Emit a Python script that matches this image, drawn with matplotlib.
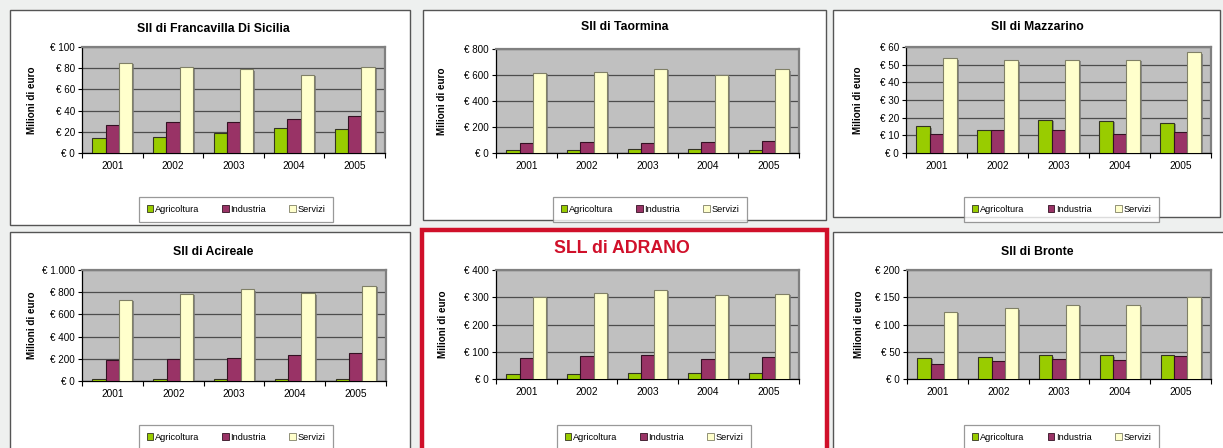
import numpy as np
import matplotlib
matplotlib.use("Agg")
import matplotlib.pyplot as plt
from matplotlib.patches import Rectangle
from matplotlib.ticker import FuncFormatter, MultipleLocator, FixedLocator
import matplotlib.patheffects as pe

plt.rcParams['font.family'] = ['Liberation Sans', 'DejaVu Sans']

# ---------------- data ----------------
years = ["2001", "2002", "2003", "2004", "2005"]
series_names = ["Agricoltura", "Industria", "Servizi"]

titles = ["Sll di Francavilla Di Sicilia", "Sll di Taormina", "Sll di Mazzarino",
          "Sll di Acireale", "SLL di ADRANO", "Sll di Bronte"]

francavilla_agr = [14, 15, 18.5, 23.5, 22.5]
francavilla_ind = [26, 29, 29, 32, 35]
francavilla_ser = [85, 81, 79, 74, 81]

taormina_agr = [21, 23, 27, 27, 22]
taormina_ind = [75, 83, 80, 85, 95]
taormina_ser = [617, 622, 648, 599, 643]

mazzarino_agr = [15.2, 12.9, 18.7, 18.3, 17.0]
mazzarino_ind = [10.6, 12.9, 12.9, 10.6, 11.8]
mazzarino_ser = [53.6, 52.5, 52.7, 52.7, 57.1]

acireale_agr = [15, 16, 21, 21, 22]
acireale_ind = [190, 198, 208, 235, 253]
acireale_ser = [730, 788, 827, 791, 858]

adrano_agr = [17, 18, 23, 23, 23]
adrano_ind = [78, 86, 87, 75, 82]
adrano_ser = [301, 316, 327, 308, 312]

bronte_agr = [38.7, 39.9, 43.6, 43.6, 44.2]
bronte_ind = [27, 33, 36, 35, 43]
bronte_ser = [123, 130, 136, 135, 150]

y_max = [100, 800, 60, 1000, 400, 200]
y_step = [20, 200, 10, 200, 100, 50]

panel_values = [
    (francavilla_agr, francavilla_ind, francavilla_ser),
    (taormina_agr, taormina_ind, taormina_ser),
    (mazzarino_agr, mazzarino_ind, mazzarino_ser),
    (acireale_agr, acireale_ind, acireale_ser),
    (adrano_agr, adrano_ind, adrano_ser),
    (bronte_agr, bronte_ind, bronte_ser),
]

# ---------------- layout (pixels) ----------------
W, H = 1223, 448
fig = plt.figure(figsize=(W / 100, H / 100), dpi=100)
fig.patch.set_facecolor('#eef0ef')

def fr(x0, y0, x1, y1):
    return [x0 / W, 1 - y1 / H, (x1 - x0) / W, (y1 - y0) / H]

boxes = [(10, 10, 410, 225), (423, 10, 826, 220), (833, 10, 1220, 217),
         (10, 232, 410, 470), (422, 230, 827, 470), (833, 232, 1240, 470)]
plots = [(82, 47, 385, 153), (496, 49, 799, 153), (906, 47, 1211, 153),
         (82, 270, 386, 381), (496, 270, 799, 379), (907, 270, 1211, 379)]
title_pos = [(213, 29), (625, 27), (1037, 27), (213, 252), (622, 248), (1037, 252)]
ylabel_x = [32, 442, 858, 32, 443, 859]
legend_box = [(139, 197, 333, 220), (553, 197, 747, 220), (964, 197, 1159, 218),
              (139, 425, 333, 448), (557, 425, 751, 448), (964, 425, 1159, 448)]

colors = ['#99cc00', '#993366', '#ffffcc']
edges = ['#333322', '#331122', '#808066']

for i in range(6):
    bx0, by0, bx1, by1 = boxes[i]
    red = (i == 4)
    fig.patches.append(Rectangle((bx0 / W, 1 - by1 / H), (bx1 - bx0) / W, (by1 - by0) / H,
                                 transform=fig.transFigure, facecolor='white',
                                 edgecolor='#d0102a' if red else '#555555',
                                 linewidth=3.2 if red else 1.0, zorder=-5))

    ax = fig.add_axes(fr(*plots[i]))
    ax.set_facecolor('#c0c0c0')
    x = np.arange(len(years))
    bw = 0.22
    for k, vals in enumerate(panel_values[i]):
        bars = ax.bar(x + (k - 1) * bw, vals, width=bw, color=colors[k], edgecolor=edges[k],
                      linewidth=0.8, zorder=3, label=series_names[k])
        for b in bars:
            b.set_path_effects([pe.SimplePatchShadow(offset=(1.4, -1.0), shadow_rgbFace='#7a7a7a',
                                                      alpha=0.8), pe.Normal()])
    ax.set_xlim(-0.5, len(years) - 0.5)
    ax.set_ylim(0, y_max[i])
    ax.yaxis.set_major_locator(MultipleLocator(y_step[i]))
    ax.yaxis.set_major_formatter(FuncFormatter(
        lambda v, p: "€ " + f"{int(round(v)):,}".replace(",", ".")))
    ax.grid(axis='y', color='#4d4d4d', linewidth=0.9, zorder=1)
    ax.set_axisbelow(True)

    ax.set_xticks(x)
    ax.set_xticklabels(years)
    ax.xaxis.set_minor_locator(FixedLocator(np.arange(-0.5, len(years), 1.0)))
    ax.tick_params(axis='x', which='major', length=0, pad=6, labelsize=7.3, colors='#000000')
    ax.tick_params(axis='x', which='minor', length=3.5, width=0.8, direction='out', color='#000000')
    ax.tick_params(axis='y', length=3, width=0.8, pad=2, labelsize=7.1, direction='out')

    for s in ['top', 'right']:
        ax.spines[s].set_color('#808080')
        ax.spines[s].set_linewidth(1.6)
    ax.spines['left'].set_color('#000000')
    ax.spines['bottom'].set_color('#000000')
    ax.spines['left'].set_linewidth(0.9)
    ax.spines['bottom'].set_linewidth(0.9)

    tx, ty = title_pos[i]
    if red:
        fig.text(tx / W, 1 - ty / H, titles[i], fontsize=12.8, fontweight='bold',
                 color='#d0102a', ha='center', va='center')
    else:
        fig.text(tx / W, 1 - ty / H, titles[i], fontsize=8.8, fontweight='bold',
                 color='#000000', ha='center', va='center')

    py0, py1 = plots[i][1], plots[i][3]
    fig.text(ylabel_x[i] / W, 1 - (py0 + py1) / 2 / H, "Milioni di euro", rotation=90,
             fontsize=7.1, fontweight='bold', ha='center', va='center')

    lx0, ly0, lx1, ly1 = legend_box[i]
    handles, labels = ax.get_legend_handles_labels()
    leg = fig.legend(handles, labels, loc='upper left',
                     bbox_to_anchor=(lx0 / W, 1 - ly0 / H, (lx1 - lx0) / W, 0.0),
                     bbox_transform=fig.transFigure, mode='expand', ncol=3,
                     fontsize=6.7, frameon=True, fancybox=False, borderaxespad=0,
                     handlelength=0.7, handleheight=0.7, handletextpad=0.15,
                     borderpad=0.85, columnspacing=1.0)
    leg.get_frame().set_edgecolor('#808080')
    leg.get_frame().set_linewidth(0.9)
    leg.get_frame().set_facecolor('white')
    for h in leg.legend_handles:
        h.set_path_effects([])
        h.set_linewidth(0.6)

fig.savefig("out.png", dpi=100, facecolor=fig.get_facecolor())
